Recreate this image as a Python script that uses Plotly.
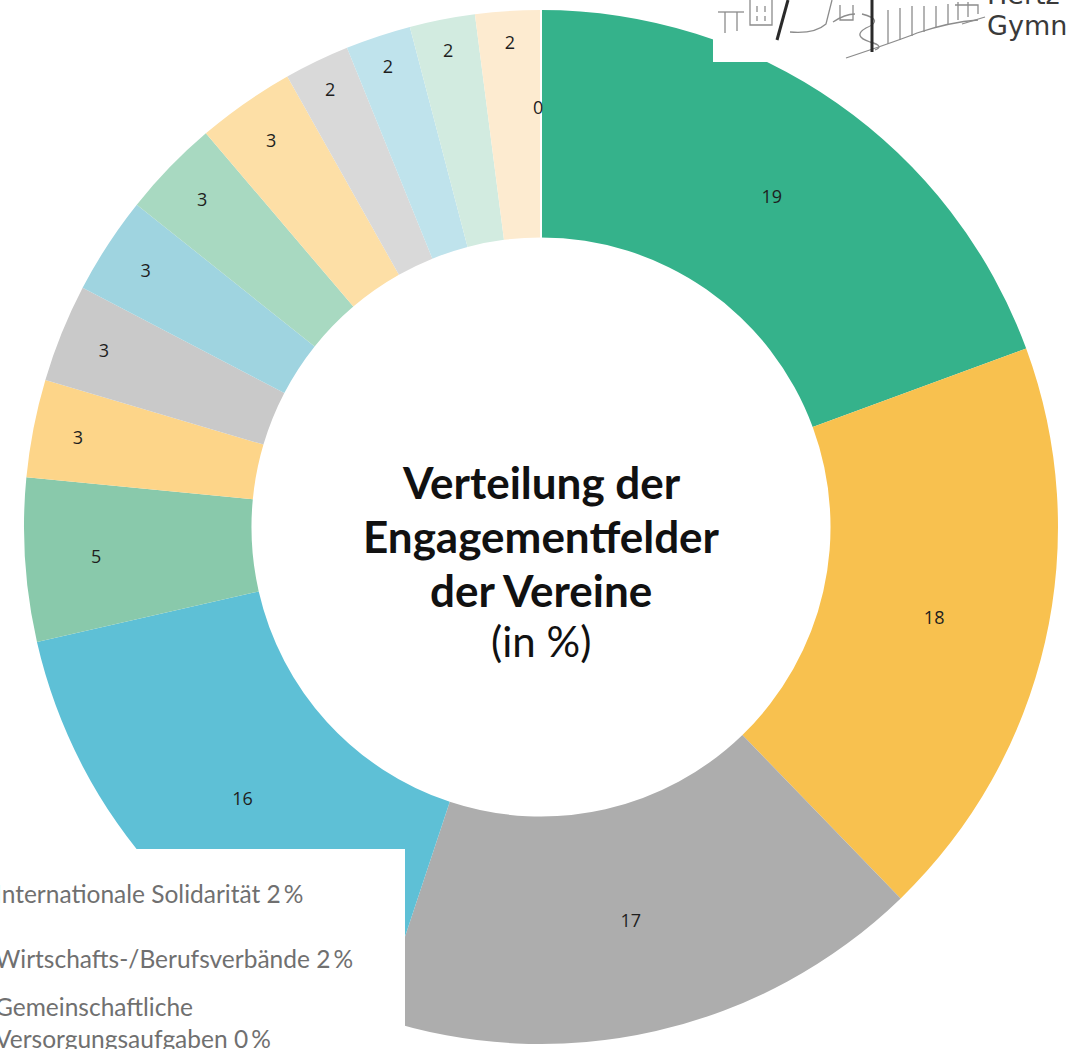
import math
import plotly.graph_objects as go

# ---------------- data ----------------
categories = [
    "Sport und Bewegung", "Kultur und Musik", "Freizeit und Geselligkeit",
    "Sozialer Bereich", "Schule/Kindergarten", "Kirche/Religion",
    "Umwelt-/Naturschutz", "Jugendarbeit/Bildung", "Gesundheit",
    "Rettungsdienste/Feuerwehr", "Politik", "Lokales Bürgerengagement",
    "Internationale Solidarität", "Wirtschafts-/Berufsverbände",
    "Gemeinschaftliche Versorgungsaufgaben",
]
values = [19, 18, 17, 16, 5, 3, 3, 3, 3, 3, 2, 2, 2, 2, 0]
colors = [
    "#35b28b", "#f8c14f", "#adadad", "#5ec0d6", "#89c9ab", "#fdd589",
    "#c9c9c9", "#9fd4e0", "#a8d9c1", "#fddfa6", "#d9d9d9", "#bfe3ec",
    "#d2ebe0", "#fdebd0", "#ffffff",
]
legend_rows = [12, 13, 14]  # entries visible in the (cropped) legend box
title_lines = ["Verteilung der", "Engagementfelder", "der Vereine"]
subtitle = "(in %)"

W, H = 1069, 1049
cx, cy, R = 541, 527, 517   # pixel centre / radius of donut
hole = 0.56


def px(x):
    return x / W


def py(y):
    return 1 - y / H


fig = go.Figure()
texts = [str(v) if v > 0 else "" for v in values]
fig.add_trace(go.Pie(
    labels=categories, values=values, text=texts,
    textinfo="text", textposition="inside", insidetextorientation="horizontal",
    textfont=dict(family="Open Sans", size=18, color="#1e1e1e"),
    marker=dict(colors=colors, line=dict(width=[0] * (len(values) - 1) + [2], color="white")),
    sort=False, direction="clockwise", rotation=0, hole=hole,
    domain=dict(x=[(cx - R) / W, (cx + R) / W],
                y=[(H - cy - R) / H, (H - cy + R) / H]),
    showlegend=False, hoverinfo="label+value",
))

annotations = []
shapes = []

# label for the zero-valued slice, placed at its angle in the ring
total = sum(values)
cum = 0
for v in values:
    if v == 0:
        ang = math.radians(cum / total * 360)
        rl = 420
        annotations.append(dict(x=px(cx + rl * math.sin(ang) - 3), y=py(cy - rl * math.cos(ang)),
                                xref="paper", yref="paper", xanchor="center", yanchor="middle",
                                text=str(v), showarrow=False,
                                font=dict(family="Open Sans", size=18, color="#1e1e1e")))
    cum += v

# centre title
for line, yy in zip(title_lines, [482, 536, 590]):
    annotations.append(dict(x=px(cx), y=py(yy), xref="paper", yref="paper",
                            text=f"<b>{line}</b>", showarrow=False,
                            xanchor="center", yanchor="middle",
                            font=dict(family="Lato", size=44, color="#111111")))
annotations.append(dict(x=px(cx), y=py(641), xref="paper", yref="paper", text=subtitle,
                        showarrow=False, xanchor="center", yanchor="middle",
                        font=dict(family="Lato", size=42, color="#111111")))

# legend box (cropped) at bottom left
shapes.append(dict(type="rect", xref="paper", yref="paper", x0=px(-10), x1=px(405),
                   y0=py(H + 10), y1=py(849), fillcolor="white", line=dict(width=0)))
leg_y = [893, 958, 1022]
for idx, yy in zip(legend_rows, leg_y):
    name = categories[idx]
    if name.startswith("Gemeinschaftliche"):
        name = name.replace(" ", "<br>", 1)
    annotations.append(dict(x=px(-7), y=py(yy), xref="paper", yref="paper",
                            xanchor="left", yanchor="middle", align="left",
                            text=f"{name} {values[idx]}\u2009%", showarrow=False,
                            font=dict(family="Lato", size=24.5, color="#707070")))

# logo area top right
shapes.append(dict(type="rect", xref="paper", yref="paper", x0=px(713), x1=px(W + 10),
                   y0=py(62), y1=py(-10), fillcolor="white", line=dict(width=0)))
thin = [
    "M 718 12 L 744 12", "M 725 12 L 725 33", "M 737 12 L 737 31",
    "M 750 0 L 750 25 L 772 25 L 772 0", "M 757 6 L 757 12", "M 765 6 L 765 12",
    "M 757 16 L 757 21", "M 765 16 L 765 21",
    "M 790 32 Q 815 34 826 24 L 832 0",
    "M 833 22 Q 845 14 855 14", "M 840 5 L 840 20 L 853 20 L 853 5",
    "M 846 58 Q 900 40 917 33 Q 950 22 978 20",
    "M 862 14 Q 885 20 866 28 Q 852 36 870 42 Q 885 46 875 50",
    "M 888 10 L 888 44", "M 900 8 L 900 40", "M 912 6 L 912 36", "M 924 6 L 924 32",
    "M 936 6 L 936 28", "M 948 4 L 948 24", "M 958 2 L 958 20", "M 968 2 L 968 17",
    "M 955 5 L 978 5 L 978 14", "M 962 24 L 985 17",
]
for p in thin:
    shapes.append(dict(type="path", path=p, xref="x", yref="y",
                       line=dict(color="#8c8c8c", width=1.3)))
for (x0, y0, x1, y1) in [(872, 0, 872, 52), (788, 0, 777, 40)]:
    shapes.append(dict(type="line", xref="x", yref="y", x0=x0, y0=y0, x1=x1, y1=y1,
                       line=dict(color="#2a2a2a", width=3)))
annotations.append(dict(x=px(985), y=py(26), xref="paper", yref="paper",
                        xanchor="left", yanchor="middle", text="Gymn", showarrow=False,
                        font=dict(family="DejaVu Sans", size=27, color="#3a3a3a")))
annotations.append(dict(x=px(985), y=py(-5), xref="paper", yref="paper",
                        xanchor="left", yanchor="middle", text="Hertz-", showarrow=False,
                        font=dict(family="DejaVu Sans", size=27, color="#3a3a3a")))

fig.update_layout(
    width=W, height=H, margin=dict(l=0, r=0, t=0, b=0),
    paper_bgcolor="white", plot_bgcolor="rgba(0,0,0,0)",
    xaxis=dict(range=[0, W], visible=False, fixedrange=True, domain=[0, 1]),
    yaxis=dict(range=[H, 0], visible=False, fixedrange=True, domain=[0, 1]),
    annotations=annotations, shapes=shapes,
)
fig.write_html("out.html", config={"displayModeBar": False},
               post_script="document.body.style.margin='0';")
